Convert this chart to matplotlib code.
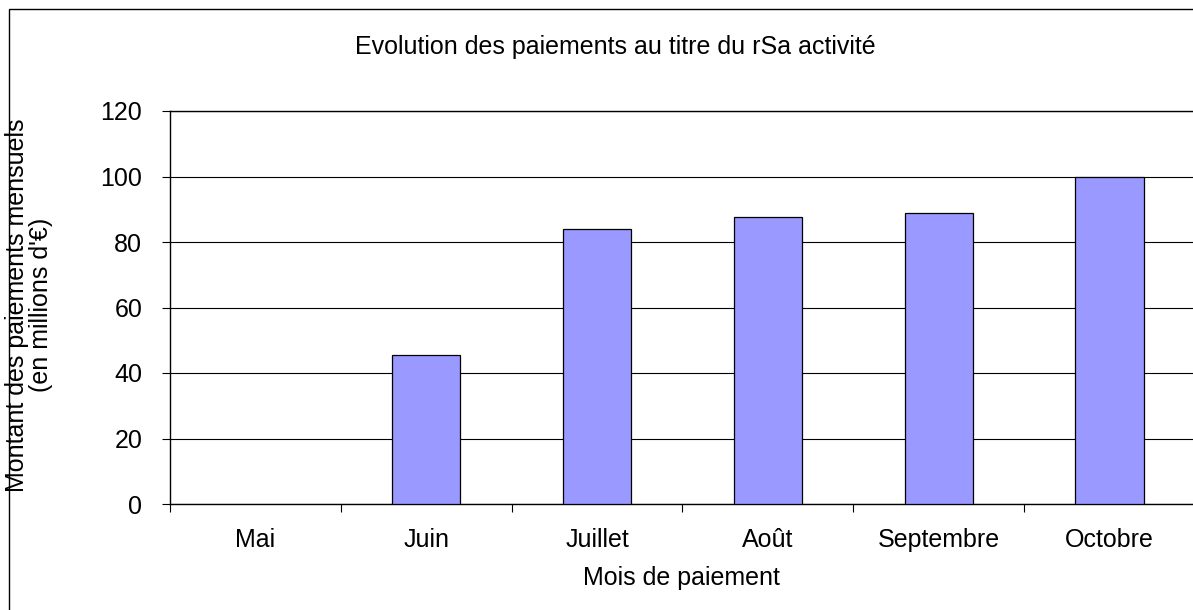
import matplotlib
matplotlib.use("Agg")
import matplotlib.pyplot as plt
from matplotlib.patches import Rectangle
from matplotlib.transforms import Bbox
import numpy as np

plt.rcParams['font.family'] = ['Liberation Sans', 'DejaVu Sans']

categories = ["Mai", "Juin", "Juillet", "Août", "Septembre", "Octobre"]
values = [0, 45.6, 84.0, 87.5, 88.8, 100.0]
yticks = [0, 20, 40, 60, 80, 100, 120]

W, H = 1193, 610
FS = 18
fig = plt.figure(figsize=(W / 100, H / 100), dpi=100)

# outer chart frame
fig.patches.append(Rectangle((9 / W, -0.01), 1.05, 1 - 9 / H + 0.01, transform=fig.transFigure,
                             fill=False, edgecolor='black', linewidth=1.0))

left, right, top, bottom = 170, 1195, 111, 504
ax = fig.add_axes([left / W, 1 - bottom / H, (right - left) / W, (bottom - top) / H])

x = np.arange(len(categories))
edges = ['black' if v > 0 else 'none' for v in values]
ax.bar(x, values, width=0.40, color='#9999FF', edgecolor=edges, linewidth=0.9, zorder=3)

ax.set_xlim(-0.5, len(categories) - 0.5)
ax.set_ylim(0, 120)
ax.set_yticks(yticks)
ax.set_yticklabels([str(v) for v in yticks], fontsize=FS)
ax.yaxis.grid(True, color='black', linewidth=0.8, zorder=0)
ax.set_axisbelow(True)

ax.set_xticks(np.arange(len(categories) + 1) - 0.5)
ax.set_xticklabels([])
ax.set_xticks(x, minor=True)
ax.set_xticklabels(categories, minor=True, fontsize=FS)
ax.tick_params(axis='x', which='major', direction='out', length=6, width=0.8)
ax.tick_params(axis='x', which='minor', length=0, pad=17)
ax.tick_params(axis='y', direction='out', length=6, width=0.8, pad=14)

for s in ['left', 'top', 'bottom']:
    ax.spines[s].set_color('black')
    ax.spines[s].set_linewidth(1.0)
ax.spines['right'].set_visible(False)

fig.text(615 / W, 1 - 47 / H, "Evolution des paiements au titre du rSa activité",
         ha='center', va='center', fontsize=FS)
fig.text(681 / W, 1 - 578 / H, "Mois de paiement", ha='center', va='center', fontsize=FS)

ylab = fig.text(29 / W, 1 - 305 / H, "Montant des paiements mensuels\n(en millions d'€)",
                ha='center', va='center', rotation=90, fontsize=FS, multialignment='center',
                linespacing=1.05)
clip = Bbox.from_extents(0, 0, W, H - 116)
ylab.set_clip_box(clip)
ylab.set_clip_on(True)

fig.savefig("out.png", dpi=100)
